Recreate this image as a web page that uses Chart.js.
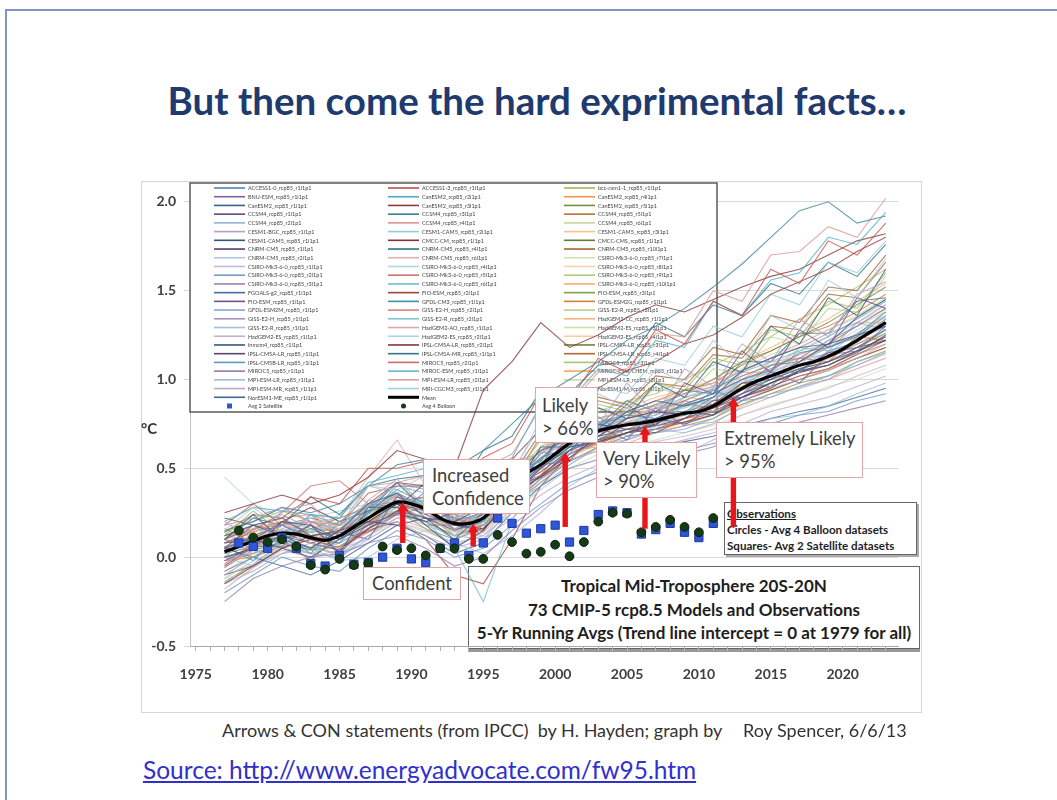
<!DOCTYPE html>
<html>
<head>
<meta charset="utf-8">
<script src="https://cdn.jsdelivr.net/npm/chart.js@4.4.1/dist/chart.umd.min.js"></script>
<style>
  html, body { margin: 0; padding: 0; background: #fff; }
  body { width: 1057px; height: 800px; position: relative; overflow: hidden; font-family: Lato, "Open Sans", sans-serif; }
  .slide-frame { position: absolute; left: 5px; top: 9px; width: 1100px; height: 900px;
    border-left: 2px solid #8194c4; border-top: 2px solid #8194c4; }
  h1 { position: absolute; left: 0; width: 1074px; top: 77px; margin: 0; text-align: center;
    font: 700 38.5px/46px Lato, sans-serif; color: #1f3a6e; }
  .figure-frame { position: absolute; left: 141px; top: 181px; width: 779px; height: 530px;
    border: 1.5px solid #d6d6d6; z-index: 0; }
  #plot { position: absolute; left: 0; top: 0; z-index: 2; }
  .unit { position: absolute; left: 141px; top: 419px; font: 700 15px/18px Lato, sans-serif; color: #333; z-index: 3; }
  .note { position: absolute; z-index: 3; background: #fff; border: 1px solid #e2a4a4; box-sizing: border-box;
    font: 400 18.4px/23px Lato, sans-serif; color: #404040; white-space: nowrap; }
  .legend-box { position: absolute; z-index: 1; box-sizing: border-box; border: 1px solid #666;
    box-shadow: 2px 2px 0 #aaa; color: #1e1e1e; white-space: nowrap; }
  .obs { left: 724px; top: 502px; width: 193px; height: 53px; padding: 3px 0 0 2px;
    font: 700 11.6px/16px Lato, sans-serif; }
  .obs u { text-decoration: underline; }
  .about { left: 468px; top: 566px; width: 452px; height: 83px; padding-top: 7px; text-align: center;
    font: 700 17px/23.5px Lato, sans-serif; box-shadow: 0 3px 0 #999; }
  .credit { position: absolute; z-index: 3; background: #fff; top: 717px; height: 26px;
    font: 400 18px/26px Lato, sans-serif; color: #333; white-space: nowrap; }
  .source { position: absolute; left: 143px; top: 755px; font: 400 24.5px/30px Lato, sans-serif;
    color: #3030cc; text-decoration: underline; white-space: nowrap; }
</style>
</head>
<body>
<div class="slide-frame"></div>
<h1>But then come the hard exprimental facts…</h1>
<div class="figure-frame"></div>

<div class="legend-box obs"><u>Observations</u><br>Circles - Avg 4 Balloon datasets<br>Squares- Avg 2 Satellite datasets</div>
<div class="legend-box about">Tropical Mid-Troposphere 20S-20N<br>73 CMIP-5 rcp8.5 Models and Observations<br>5-Yr Running Avgs (Trend line intercept = 0 at 1979 for all)</div>

<canvas id="plot" width="1057" height="800"></canvas>

<div class="unit">°C</div>
<div class="note" style="left:363px;top:567px;width:98px;height:33px;line-height:31px;text-align:center;">Confident</div>
<div class="note" style="left:423px;top:459px;width:107px;height:55px;padding:4px 0 0 8px;">Increased<br>Confidence</div>
<div class="note" style="left:535px;top:387px;width:63px;height:56px;padding:6px 0 0 6px;">Likely<br>&gt; 66%</div>
<div class="note" style="left:596px;top:442px;width:101px;height:56px;padding:4px 0 0 6px;">Very Likely<br>&gt; 90%</div>
<div class="note" style="left:716px;top:422px;width:147px;height:56px;padding:4px 0 0 7px;">Extremely Likely<br>&gt; 95%</div>

<div class="credit" style="left:196px;width:542px;padding-left:26px;box-sizing:border-box;">Arrows &amp; CON statements (from IPCC)&nbsp; by H. Hayden; graph by</div>
<div class="credit" style="left:743px;background:transparent;">Roy Spencer, 6/6/13</div>
<div class="source">Source: http://www.energyadvocate.com/fw95.htm</div>

<script>
// ---- axis ticks ----
const xTickYears = [1975, 1980, 1985, 1990, 1995, 2000, 2005, 2010, 2015, 2020];
const yTickValues = [-0.5, 0.0, 0.5, 1.0, 1.5, 2.0];

// ---- model runs (5-yr running averages, °C), sampled every other year ----
const modelYears = [1977, 1979, 1981, 1983, 1985, 1987, 1989, 1991, 1993, 1995, 1997, 1999,
                    2001, 2003, 2005, 2007, 2009, 2011, 2013, 2015, 2017, 2019, 2021, 2023];

const modelNames = [
  // first legend column
  'ACCESS1-0_rcp85_r1i1p1', 'BNU-ESM_rcp85_r1i1p1', 'CanESM2_rcp85_r1i1p1', 'CCSM4_rcp85_r1i1p1',
  'CCSM4_rcp85_r2i1p1', 'CESM1-BGC_rcp85_r1i1p1', 'CESM1-CAM5_rcp85_r1i1p1', 'CNRM-CM5_rcp85_r1i1p1',
  'CNRM-CM5_rcp85_r2i1p1', 'CSIRO-Mk3-6-0_rcp85_r1i1p1', 'CSIRO-Mk3-6-0_rcp85_r2i1p1', 'CSIRO-Mk3-6-0_rcp85_r3i1p1',
  'FGOALS-g2_rcp85_r1i1p1', 'FIO-ESM_rcp85_r1i1p1', 'GFDL-ESM2M_rcp85_r1i1p1', 'GISS-E2-H_rcp85_r1i1p1',
  'GISS-E2-R_rcp85_r1i1p1', 'HadGEM2-ES_rcp85_r1i1p1', 'inmcm4_rcp85_r1i1p1', 'IPSL-CM5A-LR_rcp85_r1i1p1',
  'IPSL-CM5B-LR_rcp85_r1i1p1', 'MIROC5_rcp85_r1i1p1', 'MPI-ESM-LR_rcp85_r1i1p1', 'MPI-ESM-MR_rcp85_r1i1p1',
  'NorESM1-ME_rcp85_r1i1p1',
  // second legend column
  'ACCESS1-3_rcp85_r1i1p1', 'CanESM2_rcp85_r2i1p1', 'CanESM2_rcp85_r3i1p1', 'CCSM4_rcp85_r3i1p1',
  'CCSM4_rcp85_r4i1p1', 'CESM1-CAM5_rcp85_r2i1p1', 'CMCC-CM_rcp85_r1i1p1', 'CNRM-CM5_rcp85_r4i1p1',
  'CNRM-CM5_rcp85_r6i1p1', 'CSIRO-Mk3-6-0_rcp85_r4i1p1', 'CSIRO-Mk3-6-0_rcp85_r5i1p1', 'CSIRO-Mk3-6-0_rcp85_r6i1p1',
  'FIO-ESM_rcp85_r2i1p1', 'GFDL-CM3_rcp85_r1i1p1', 'GISS-E2-H_rcp85_r2i1p1', 'GISS-E2-R_rcp85_r2i1p1',
  'HadGEM2-AO_rcp85_r1i1p1', 'HadGEM2-ES_rcp85_r2i1p1', 'IPSL-CM5A-LR_rcp85_r2i1p1', 'IPSL-CM5A-MR_rcp85_r1i1p1',
  'MIROC5_rcp85_r2i1p1', 'MIROC-ESM_rcp85_r1i1p1', 'MPI-ESM-LR_rcp85_r2i1p1', 'MRI-CGCM3_rcp85_r1i1p1',
  // third legend column
  'bcc-csm1-1_rcp85_r1i1p1', 'CanESM2_rcp85_r4i1p1', 'CanESM2_rcp85_r5i1p1', 'CCSM4_rcp85_r5i1p1',
  'CCSM4_rcp85_r6i1p1', 'CESM1-CAM5_rcp85_r3i1p1', 'CMCC-CMS_rcp85_r1i1p1', 'CNRM-CM5_rcp85_r10i1p1',
  'CSIRO-Mk3-6-0_rcp85_r7i1p1', 'CSIRO-Mk3-6-0_rcp85_r8i1p1', 'CSIRO-Mk3-6-0_rcp85_r9i1p1', 'CSIRO-Mk3-6-0_rcp85_r10i1p1',
  'FIO-ESM_rcp85_r3i1p1', 'GFDL-ESM2G_rcp85_r1i1p1', 'GISS-E2-R_rcp85_r3i1p1', 'HadGEM2-CC_rcp85_r1i1p1',
  'HadGEM2-ES_rcp85_r3i1p1', 'HadGEM2-ES_rcp85_r4i1p1', 'IPSL-CM5A-LR_rcp85_r3i1p1', 'IPSL-CM5A-LR_rcp85_r4i1p1',
  'MIROC5_rcp85_r3i1p1', 'MIROC-ESM-CHEM_rcp85_r1i1p1', 'MPI-ESM-LR_rcp85_r3i1p1', 'NorESM1-M_rcp85_r1i1p1'
];

const modelRuns = [
  [0.05,0.12,0.18,0.10,0.08,0.25,0.38,0.30,0.15,0.20,0.42,0.55,0.70,0.74,0.80,0.78,0.86,0.92,1.00,1.05,1.15,1.18,1.25,1.38],
  [-0.05,0.06,0.06,0.19,0.02,0.19,0.24,0.37,0.18,0.22,0.29,0.52,0.54,0.73,0.66,0.84,0.74,0.86,0.92,1.04,0.98,1.14,1.16,1.30],
  [0.12,0.18,0.12,0.05,0.15,0.30,0.36,0.22,0.10,0.25,0.45,0.60,0.66,0.70,0.82,0.88,0.85,0.90,1.05,1.12,1.18,1.20,1.35,1.45],
  [0.00,0.05,0.20,0.18,0.10,0.18,0.25,0.20,0.25,0.30,0.36,0.45,0.60,0.75,0.72,0.70,0.78,0.88,0.90,0.95,1.05,1.15,1.18,1.22],
  [-0.10,0.00,0.08,0.05,0.02,0.12,0.22,0.25,0.12,0.10,0.28,0.42,0.55,0.60,0.66,0.72,0.70,0.75,0.85,0.92,0.95,1.00,1.10,1.15],
  [0.20,0.10,0.26,0.30,0.12,0.32,0.44,0.28,0.34,0.22,0.54,0.58,0.82,0.74,0.98,0.80,1.06,0.96,1.20,1.10,1.34,1.24,1.48,1.55],
  [0.08,0.10,0.05,0.00,0.10,0.20,0.30,0.18,0.05,0.15,0.35,0.50,0.62,0.65,0.70,0.75,0.82,0.80,0.90,0.98,1.05,1.08,1.15,1.25],
  [-0.15,-0.05,0.05,0.12,0.15,0.20,0.18,0.22,0.20,0.28,0.40,0.45,0.56,0.68,0.78,0.82,0.80,0.86,0.98,1.00,1.10,1.20,1.25,1.30],
  [0.15,0.28,0.16,0.22,0.14,0.40,0.38,0.46,0.24,0.42,0.46,0.78,0.72,0.92,0.84,1.06,0.98,1.22,1.08,1.36,1.28,1.56,1.46,1.68],
  [-0.05,0.05,0.15,0.08,0.05,0.10,0.20,0.15,0.08,0.12,0.25,0.38,0.50,0.55,0.62,0.65,0.68,0.72,0.80,0.85,0.90,0.95,1.02,1.08],
  [0.02,0.12,0.08,0.24,0.18,0.29,0.31,0.34,0.21,0.24,0.34,0.59,0.58,0.79,0.68,0.78,0.81,0.94,0.88,1.04,1.04,1.16,1.21,1.34],
  [0.10,0.05,0.15,0.10,0.12,0.28,0.42,0.38,0.20,0.25,0.44,0.50,0.68,0.72,0.78,0.82,0.88,0.95,1.02,1.08,1.12,1.22,1.30,1.40],
  [-0.08,0.00,0.10,0.05,0.15,0.22,0.30,0.24,0.18,0.15,0.35,0.52,0.60,0.66,0.75,0.78,0.75,0.80,0.92,1.00,1.06,1.10,1.18,1.28],
  [0.05,0.18,0.22,0.12,0.14,0.10,0.34,0.26,0.30,0.26,0.52,0.50,0.80,0.72,0.86,0.74,0.98,0.92,1.16,1.04,1.28,1.18,1.46,1.40],
  [0.00,0.02,0.08,0.02,0.00,0.12,0.25,0.20,0.10,0.18,0.30,0.40,0.52,0.62,0.68,0.70,0.72,0.78,0.88,0.90,0.96,1.02,1.08,1.15],
  [0.18,0.22,0.28,0.20,0.15,0.25,0.35,0.28,0.22,0.28,0.42,0.56,0.66,0.74,0.82,0.85,0.92,0.96,1.05,1.12,1.18,1.26,1.32,1.42],
  [-0.12,-0.02,0.05,0.02,0.08,0.18,0.24,0.18,0.12,0.20,0.32,0.44,0.58,0.64,0.66,0.74,0.80,0.82,0.88,0.95,1.00,1.05,1.12,1.20],
  [0.06,0.10,0.18,0.14,0.20,0.30,0.34,0.26,0.15,0.12,0.30,0.50,0.64,0.70,0.74,0.78,0.82,0.88,0.98,1.04,1.10,1.15,1.26,1.35],
  [0.10,0.24,0.10,0.18,0.02,0.28,0.28,0.42,0.24,0.32,0.36,0.62,0.62,0.84,0.78,0.98,0.90,1.10,1.04,1.30,1.20,1.46,1.36,1.62],
  [-0.02,0.06,0.12,0.08,0.04,0.16,0.26,0.22,0.15,0.22,0.38,0.48,0.60,0.68,0.72,0.74,0.78,0.84,0.92,0.98,1.04,1.08,1.16,1.24],
  [-0.20,-0.10,0.00,-0.05,-0.08,0.05,0.15,0.10,0.00,0.05,0.18,0.30,0.42,0.48,0.52,0.55,0.58,0.62,0.70,0.75,0.80,0.82,0.88,0.92],
  [-0.25,-0.12,-0.05,0.00,0.02,0.08,0.12,0.05,-0.05,0.00,0.15,0.28,0.38,0.45,0.50,0.56,0.60,0.64,0.68,0.72,0.76,0.80,0.84,0.88],
  [0.00,-0.05,0.02,0.05,-0.02,0.00,0.10,0.15,0.08,0.02,0.12,0.25,0.40,0.50,0.55,0.52,0.58,0.66,0.72,0.78,0.80,0.85,0.92,0.98],
  [-0.15,-0.08,0.02,0.08,0.00,0.10,0.20,0.12,0.05,0.10,0.22,0.35,0.45,0.52,0.60,0.62,0.66,0.70,0.75,0.82,0.86,0.90,0.96,1.02],
  [0.05,0.00,-0.05,-0.10,-0.02,0.08,0.18,0.12,0.02,0.08,0.25,0.40,0.50,0.55,0.58,0.62,0.65,0.68,0.74,0.78,0.82,0.85,0.90,0.95],
  [0.10,0.18,0.22,0.34,0.30,0.50,0.50,0.54,0.36,0.56,0.64,0.92,0.88,1.12,1.04,1.28,1.20,1.44,1.36,1.62,1.54,1.78,1.70,1.88],
  [0.20,0.28,0.26,0.24,0.22,0.42,0.46,0.50,0.30,0.48,0.56,0.86,0.88,1.06,1.02,1.22,1.18,1.44,1.36,1.56,1.60,1.80,1.76,1.94],
  [0.05,0.10,0.20,0.28,0.20,0.30,0.42,0.40,0.32,0.38,0.55,0.72,0.85,0.95,1.05,1.10,1.20,1.25,1.35,1.48,1.55,1.62,1.72,1.80],
  [0.15,0.20,0.28,0.25,0.30,0.40,0.52,0.55,0.50,0.60,0.75,0.90,1.00,1.10,1.22,1.30,1.40,1.52,1.65,1.80,1.95,2.00,1.88,1.92],
  [0.10,0.16,0.18,0.20,0.18,0.40,0.42,0.46,0.30,0.50,0.58,0.84,0.86,1.04,1.06,1.26,1.24,1.50,1.44,1.70,1.72,1.86,1.80,2.02],
  [0.00,0.12,0.12,0.24,0.22,0.40,0.36,0.42,0.26,0.40,0.48,0.74,0.76,0.96,0.92,1.12,1.08,1.30,1.24,1.48,1.42,1.66,1.60,1.78],
  [0.25,0.30,0.35,0.30,0.35,0.45,0.60,0.55,0.50,0.94,1.10,1.32,1.18,1.25,1.35,1.42,1.38,1.45,1.52,1.58,1.62,1.70,1.78,1.82],
  [0.10,0.22,0.18,0.34,0.24,0.40,0.44,0.46,0.34,0.60,0.68,0.94,0.92,1.08,1.10,1.32,1.24,1.42,1.36,1.54,1.48,1.66,1.58,1.76],
  [0.05,0.10,0.18,0.20,0.22,0.45,0.66,0.40,0.28,0.30,0.45,0.58,0.70,0.78,0.82,0.88,0.92,0.98,1.05,1.12,1.20,1.28,1.35,1.45],
  [0.45,0.30,0.22,0.15,0.18,0.28,0.35,0.30,0.20,0.25,0.40,0.55,0.62,0.70,0.76,0.80,0.84,0.90,0.98,1.05,1.10,1.18,1.28,1.36],
  [0.08,0.15,0.25,0.40,0.43,0.30,0.28,0.22,0.18,0.26,0.40,0.52,0.66,0.72,0.76,0.80,0.86,0.92,1.00,1.06,1.14,1.20,1.30,1.40],
  [0.00,0.05,0.10,0.05,0.08,0.18,0.28,0.20,0.05,-0.25,0.20,0.55,0.70,0.72,0.75,0.78,0.85,0.90,0.95,1.02,1.08,1.15,1.22,1.30],
  [-0.10,-0.05,0.05,0.10,0.05,0.15,0.20,0.10,-0.10,-0.15,0.10,0.40,0.58,0.65,0.70,0.72,0.76,0.80,0.88,0.94,1.00,1.05,1.12,1.18],
  [0.03,0.12,0.10,0.16,0.10,0.26,0.30,0.32,0.18,0.26,0.38,0.56,0.62,0.74,0.74,0.82,0.80,0.90,0.95,1.08,1.10,1.18,1.24,1.36],
  [-0.06,0.04,0.18,0.12,0.08,0.16,0.34,0.26,0.16,0.18,0.34,0.50,0.68,0.70,0.72,0.76,0.86,0.84,0.94,1.02,1.06,1.12,1.20,1.28],
  [0.14,0.04,0.16,0.14,0.24,0.16,0.32,0.30,0.30,0.18,0.40,0.44,0.62,0.66,0.84,0.72,0.86,0.88,1.00,0.96,1.18,1.16,1.32,1.28],
  [0.00,0.14,0.20,0.10,0.04,0.22,0.36,0.24,0.12,0.28,0.46,0.60,0.72,0.68,0.78,0.84,0.88,0.86,1.00,1.10,1.12,1.14,1.22,1.30],
  [-0.10,-0.04,0.06,0.14,0.18,0.24,0.26,0.20,0.22,0.30,0.42,0.50,0.60,0.72,0.80,0.78,0.82,0.90,1.02,1.08,1.12,1.22,1.32,1.40],
  [0.22,0.18,0.14,0.08,0.12,0.20,0.30,0.26,0.18,0.16,0.32,0.46,0.58,0.64,0.70,0.76,0.80,0.84,0.90,0.98,1.04,1.10,1.16,1.22],
  [0.06,-0.02,0.14,0.02,0.20,0.26,0.42,0.26,0.28,0.26,0.48,0.54,0.74,0.74,0.88,0.82,0.94,0.92,1.10,1.10,1.26,1.26,1.44,1.46],
  [-0.04,0.08,0.14,0.20,0.12,0.14,0.24,0.28,0.22,0.16,0.30,0.44,0.56,0.66,0.70,0.74,0.76,0.82,0.90,0.96,1.02,1.06,1.14,1.20],
  [0.10,0.16,0.24,0.16,0.10,0.24,0.40,0.36,0.24,0.20,0.36,0.52,0.64,0.76,0.78,0.82,0.90,0.94,1.04,1.10,1.16,1.24,1.34,1.44],
  [-0.18,-0.06,0.04,0.00,0.04,0.14,0.22,0.16,0.06,0.14,0.30,0.44,0.54,0.60,0.64,0.70,0.74,0.76,0.84,0.90,0.96,1.00,1.06,1.12],
  [0.04,0.06,0.14,0.22,0.26,0.30,0.32,0.24,0.16,0.22,0.40,0.56,0.66,0.70,0.78,0.84,0.86,0.92,1.00,1.04,1.10,1.18,1.24,1.32],
  [0.12,0.26,0.14,0.14,0.02,0.22,0.30,0.34,0.24,0.40,0.44,0.66,0.70,0.86,0.82,0.98,0.94,1.12,1.08,1.28,1.24,1.44,1.40,1.60],
  [-0.02,0.00,0.06,0.10,0.14,0.20,0.26,0.30,0.20,0.18,0.32,0.46,0.60,0.62,0.70,0.74,0.78,0.80,0.88,0.94,1.00,1.06,1.12,1.18],
  [0.08,0.14,0.20,0.14,0.18,0.28,0.36,0.28,0.18,0.24,0.42,0.58,0.70,0.76,0.80,0.86,0.92,1.00,1.10,1.16,1.24,1.32,1.42,1.52],
  [0.16,0.08,0.10,-0.02,0.14,0.18,0.32,0.18,0.18,0.16,0.40,0.46,0.66,0.64,0.76,0.74,0.88,0.82,0.98,0.96,1.12,1.10,1.24,1.22],
  [-0.08,0.02,0.12,0.16,0.10,0.18,0.30,0.26,0.14,0.20,0.38,0.54,0.64,0.74,0.78,0.80,0.88,0.94,1.02,1.08,1.16,1.20,1.30,1.38],
  [0.02,0.10,0.22,0.24,0.16,0.20,0.32,0.34,0.28,0.26,0.40,0.52,0.62,0.72,0.76,0.82,0.84,0.90,0.98,1.04,1.12,1.18,1.24,1.34],
  [0.00,0.04,0.08,0.04,0.06,0.16,0.24,0.20,0.12,0.18,0.34,0.46,0.58,0.66,0.70,0.72,0.78,0.82,0.90,0.96,1.02,1.06,1.14,1.22],
  [0.18,0.30,0.18,0.22,0.18,0.36,0.40,0.40,0.22,0.38,0.46,0.70,0.74,0.90,0.86,1.02,1.00,1.18,1.14,1.36,1.32,1.52,1.50,1.70],
  [-0.12,-0.08,0.02,0.06,0.02,0.12,0.20,0.14,0.08,0.12,0.26,0.40,0.50,0.58,0.62,0.66,0.70,0.74,0.80,0.86,0.90,0.96,1.00,1.06],
  [0.06,0.12,0.16,0.08,0.12,0.26,0.34,0.30,0.22,0.28,0.44,0.56,0.68,0.74,0.80,0.84,0.88,0.94,1.04,1.12,1.18,1.24,1.34,1.42],
  [-0.06,0.06,0.10,0.14,0.20,0.26,0.28,0.22,0.16,0.24,0.36,0.50,0.62,0.70,0.74,0.76,0.82,0.86,0.96,1.02,1.06,1.12,1.20,1.26],
  [0.10,0.02,0.20,0.16,0.18,0.18,0.42,0.28,0.24,0.14,0.38,0.48,0.70,0.68,0.82,0.76,0.90,0.88,1.04,1.04,1.18,1.16,1.32,1.32],
  [-0.14,-0.04,0.08,0.04,0.10,0.20,0.26,0.16,0.10,0.16,0.30,0.42,0.54,0.62,0.68,0.70,0.74,0.78,0.86,0.92,0.98,1.02,1.10,1.16],
  [0.04,0.16,0.20,0.14,0.16,0.26,0.30,0.34,0.26,0.30,0.46,0.60,0.70,0.78,0.82,0.88,0.94,0.98,1.08,1.16,1.24,1.30,1.38,1.48],
  [0.12,0.18,0.06,0.18,0.14,0.32,0.30,0.30,0.12,0.28,0.36,0.62,0.66,0.84,0.80,0.96,0.90,1.06,1.04,1.24,1.20,1.40,1.38,1.58],
  [0.12,0.14,0.10,0.14,0.18,0.28,0.34,0.26,0.16,0.22,0.40,0.56,0.70,0.78,0.84,0.90,0.94,1.00,1.10,1.18,1.26,1.34,1.44,1.54],
  [0.08,0.16,0.14,0.16,0.02,0.18,0.26,0.34,0.18,0.32,0.36,0.54,0.60,0.78,0.76,0.86,0.80,0.94,0.96,1.10,1.08,1.22,1.22,1.40],
  [0.08,0.12,0.18,0.12,0.06,0.14,0.30,0.30,0.22,0.28,0.40,0.50,0.64,0.74,0.80,0.82,0.84,0.90,1.00,1.06,1.12,1.18,1.26,1.36],
  [0.02,0.06,0.10,0.16,0.22,0.28,0.36,0.28,0.18,0.20,0.36,0.52,0.62,0.66,0.72,0.78,0.82,0.86,0.94,1.00,1.06,1.10,1.18,1.26],
  [0.14,0.24,0.22,0.24,0.12,0.28,0.30,0.34,0.20,0.36,0.42,0.68,0.70,0.88,0.84,0.98,0.96,1.14,1.12,1.30,1.28,1.48,1.46,1.66],
  [0.14,0.20,0.26,0.20,0.16,0.24,0.34,0.30,0.24,0.30,0.46,0.62,0.74,0.82,0.88,0.92,1.00,1.08,1.16,1.24,1.34,1.42,1.52,1.62],
  [-0.02,0.02,0.08,0.06,0.12,0.22,0.28,0.22,0.14,0.18,0.32,0.46,0.56,0.64,0.70,0.76,0.78,0.84,0.92,0.98,1.04,1.08,1.16,1.24],
  [0.06,0.10,0.14,0.10,0.14,0.24,0.32,0.30,0.24,0.28,0.44,0.58,0.68,0.74,0.78,0.84,0.90,0.96,1.06,1.14,1.20,1.28,1.36,1.46],
  [-0.10,0.00,0.06,0.02,0.06,0.16,0.26,0.20,0.12,0.16,0.30,0.44,0.54,0.62,0.66,0.70,0.76,0.80,0.86,0.92,0.96,1.00,1.08,1.14]
];

// ---- multi-model mean (°C), yearly ----
const meanYears = [1977,1978,1979,1980,1981,1982,1983,1984,1985,1986,1987,1988,1989,1990,1991,1992,
  1993,1994,1995,1996,1997,1998,1999,2000,2001,2002,2003,2004,2005,2006,2007,2008,2009,2010,2011,
  2012,2013,2014,2015,2016,2017,2018,2019,2020,2021,2022,2023];
const meanValues = [0.03,0.06,0.09,0.12,0.135,0.13,0.11,0.095,0.12,0.17,0.22,0.27,0.31,0.30,0.27,0.22,
  0.19,0.19,0.22,0.30,0.39,0.47,0.52,0.58,0.64,0.68,0.71,0.73,0.745,0.755,0.77,0.79,0.81,0.82,0.85,
  0.90,0.95,0.99,1.02,1.05,1.08,1.10,1.13,1.17,1.22,1.27,1.32];

// ---- observations (°C), yearly ----
const obsYears = [1978,1979,1980,1981,1982,1983,1984,1985,1986,1987,1988,1989,1990,1991,1992,1993,
  1994,1995,1996,1997,1998,1999,2000,2001,2002,2003,2004,2005,2006,2007,2008,2009,2010,2011];
const satelliteAvg = [0.08,0.06,0.05,0.11,0.05,-0.035,-0.05,0.01,-0.04,-0.03,0.00,0.05,-0.01,-0.03,0.05,0.08,
  0.01,0.08,0.22,0.19,0.135,0.16,0.18,0.085,0.15,0.24,0.26,0.25,0.13,0.155,0.19,0.14,0.11,0.19];
const balloonAvg = [0.15,0.11,0.085,0.10,0.06,-0.045,-0.07,-0.01,-0.045,-0.035,0.06,0.04,0.05,0.01,0.05,0.05,
  -0.01,-0.01,0.125,0.085,0.02,0.03,0.07,0.005,0.085,0.20,0.25,0.245,0.14,0.17,0.21,0.17,0.14,0.22];

// ---- confidence arrows: year, observed level, model-mean level ----
const arrowYears = [1989.4, 1994.3, 2000.7, 2006.25, 2012.4];
const arrowFrom  = [0.08, 0.06, 0.17, 0.16, 0.17];
const arrowTo    = [0.31, 0.19, 0.59, 0.74, 0.90];

// ---- styling helpers ----
const accents = ['#4F81BD', '#C0504D', '#9BBB59', '#8064A2', '#4BACC6', '#F79646'];
const shadeSteps = [0, -0.25, 0.4, -0.35, 0.55, 0.2, -0.15, 0.3, 0.5, -0.3, 0.15, 0.45, -0.2];
function shade(hex, t, alpha) {
  const n = parseInt(hex.slice(1), 16);
  let c = [(n >> 16) & 255, (n >> 8) & 255, n & 255];
  c = c.map(v => Math.round(t < 0 ? v * (1 + t) : v + (255 - v) * t));
  return `rgba(${c[0]},${c[1]},${c[2]},${alpha})`;
}
// legend slot (column, row) of each model run
function slotOf(i) {
  if (i < 25) return { col: 0, row: i };
  if (i < 49) return { col: 1, row: i - 25 };
  return { col: 2, row: i - 49 };
}
function runColor(i, alpha) {
  const s = slotOf(i);
  const k = s.row * 3 + s.col;
  return shade(accents[k % 6], shadeSteps[Math.floor(k / 6) % shadeSteps.length], alpha);
}

const datasets = [];
modelRuns.forEach((run, i) => {
  datasets.push({
    label: modelNames[i],
    data: modelYears.map((yr, k) => ({ x: yr, y: run[k] })),
    borderColor: runColor(i, 0.78),
    legendColor: runColor(i, 1),
    borderWidth: 1.1,
    pointRadius: 0,
    tension: 0,
    order: 3
  });
});
datasets.push({
  label: 'Mean',
  data: meanYears.map((yr, k) => ({ x: yr, y: meanValues[k] })),
  borderColor: '#000', legendColor: '#000', borderWidth: 3.2, pointRadius: 0, tension: 0.3, order: 2,
  legendSlot: { col: 1, row: 24 }
});
datasets.push({
  label: 'Avg 2 Satellite',
  data: obsYears.map((yr, k) => ({ x: yr, y: satelliteAvg[k] })),
  showLine: false, pointStyle: 'rect', pointRadius: 5.8, backgroundColor: '#2f56d6', borderColor: '#1d3aa6',
  borderWidth: 1, order: 1, legendSlot: { col: 0, row: 25 }
});
datasets.push({
  label: 'Avg 4 Balloon',
  data: obsYears.map((yr, k) => ({ x: yr, y: balloonAvg[k] })),
  showLine: false, pointStyle: 'circle', pointRadius: 4.4, backgroundColor: '#163a16', borderColor: '#0b220b',
  borderWidth: 1, order: 0, legendSlot: { col: 1, row: 25 }
});

// Three-column series key drawn inside the plot, under the lines.
const seriesKey = {
  id: 'seriesKey',
  beforeDatasetsDraw(chart) {
    const ctx = chart.ctx;
    const left = 190, top = 183, right = 717, bottom = 412;
    const colX = [214, 388, 564];
    const rowY0 = 188, rowStep = 8.72;
    ctx.save();
    ctx.fillStyle = '#fff';
    ctx.fillRect(left, top, right - left, bottom - top);
    ctx.strokeStyle = '#5a5a5a';
    ctx.lineWidth = 1.5;
    ctx.strokeRect(left, top, right - left, bottom - top);
    ctx.font = '5.5px Lato, sans-serif';
    ctx.textBaseline = 'middle';
    chart.data.datasets.forEach((ds, i) => {
      const s = ds.legendSlot || slotOf(i);
      const x = colX[s.col], y = rowY0 + s.row * rowStep;
      if (ds.showLine === false) {
        ctx.fillStyle = ds.backgroundColor;
        if (ds.pointStyle === 'rect') ctx.fillRect(x + 13, y - 2.5, 5, 5);
        else { ctx.beginPath(); ctx.arc(x + 15.5, y, 2.5, 0, Math.PI * 2); ctx.fill(); }
      } else {
        ctx.strokeStyle = ds.legendColor;
        ctx.lineWidth = ds.label === 'Mean' ? 3 : 1.6;
        ctx.beginPath(); ctx.moveTo(x, y); ctx.lineTo(x + 31, y); ctx.stroke();
      }
      ctx.fillStyle = '#444';
      ctx.fillText(ds.label, x + 34, y + 0.5);
    });
    ctx.restore();
  }
};

// Red arrows from the observed level up to the model mean.
const confidenceArrows = {
  id: 'confidenceArrows',
  afterDatasetsDraw(chart) {
    const { ctx, scales: { x, y } } = chart;
    ctx.save();
    ctx.fillStyle = '#e8161b';
    arrowYears.forEach((yr, i) => {
      const px = x.getPixelForValue(yr);
      const y0 = y.getPixelForValue(arrowFrom[i]);
      const y1 = y.getPixelForValue(arrowTo[i]);
      ctx.fillRect(px - 2.7, y1 + 8, 5.4, y0 - y1 - 8);
      ctx.beginPath();
      ctx.moveTo(px, y1);
      ctx.lineTo(px - 5.5, y1 + 9);
      ctx.lineTo(px + 5.5, y1 + 9);
      ctx.closePath();
      ctx.fill();
    });
    ctx.restore();
  }
};

const tickFont = { family: 'Lato, sans-serif', size: 14, weight: 'bold' };

new Chart(document.getElementById('plot'), {
  type: 'line',
  data: { datasets },
  options: {
    responsive: false,
    animation: false,
    devicePixelRatio: 1,
    layout: { padding: { left: 141, right: 159, top: 184, bottom: 94 } },
    plugins: { legend: { display: false }, tooltip: { enabled: false } },
    scales: {
      x: {
        type: 'linear', min: 1974.6, max: 2023.85,
        afterBuildTicks: s => {
          const t = [];
          for (let yr = xTickYears[0]; yr <= 2023; yr++) t.push({ value: yr });
          s.ticks = t;
        },
        afterFit: s => { s.height = 60; },
        ticks: {
          autoSkip: false, maxRotation: 0, padding: 15, color: '#404040', font: tickFont,
          callback: v => (xTickYears.includes(v) ? String(v) : '')
        },
        grid: { drawOnChartArea: false, tickLength: 5, color: '#b4b4b4' },
        border: { color: '#a8a8a8' }
      },
      y: {
        min: -0.5, max: 2.1,
        afterBuildTicks: s => { s.ticks = yTickValues.map(v => ({ value: v })); },
        afterFit: s => { s.width = 49; },
        ticks: { padding: 8, color: '#404040', font: tickFont, callback: v => v.toFixed(1) },
        grid: { color: '#d9d9d9', tickLength: 6 },
        border: { color: '#c4c4c4' }
      }
    }
  },
  plugins: [seriesKey, confidenceArrows]
});
</script>
</body>
</html>
